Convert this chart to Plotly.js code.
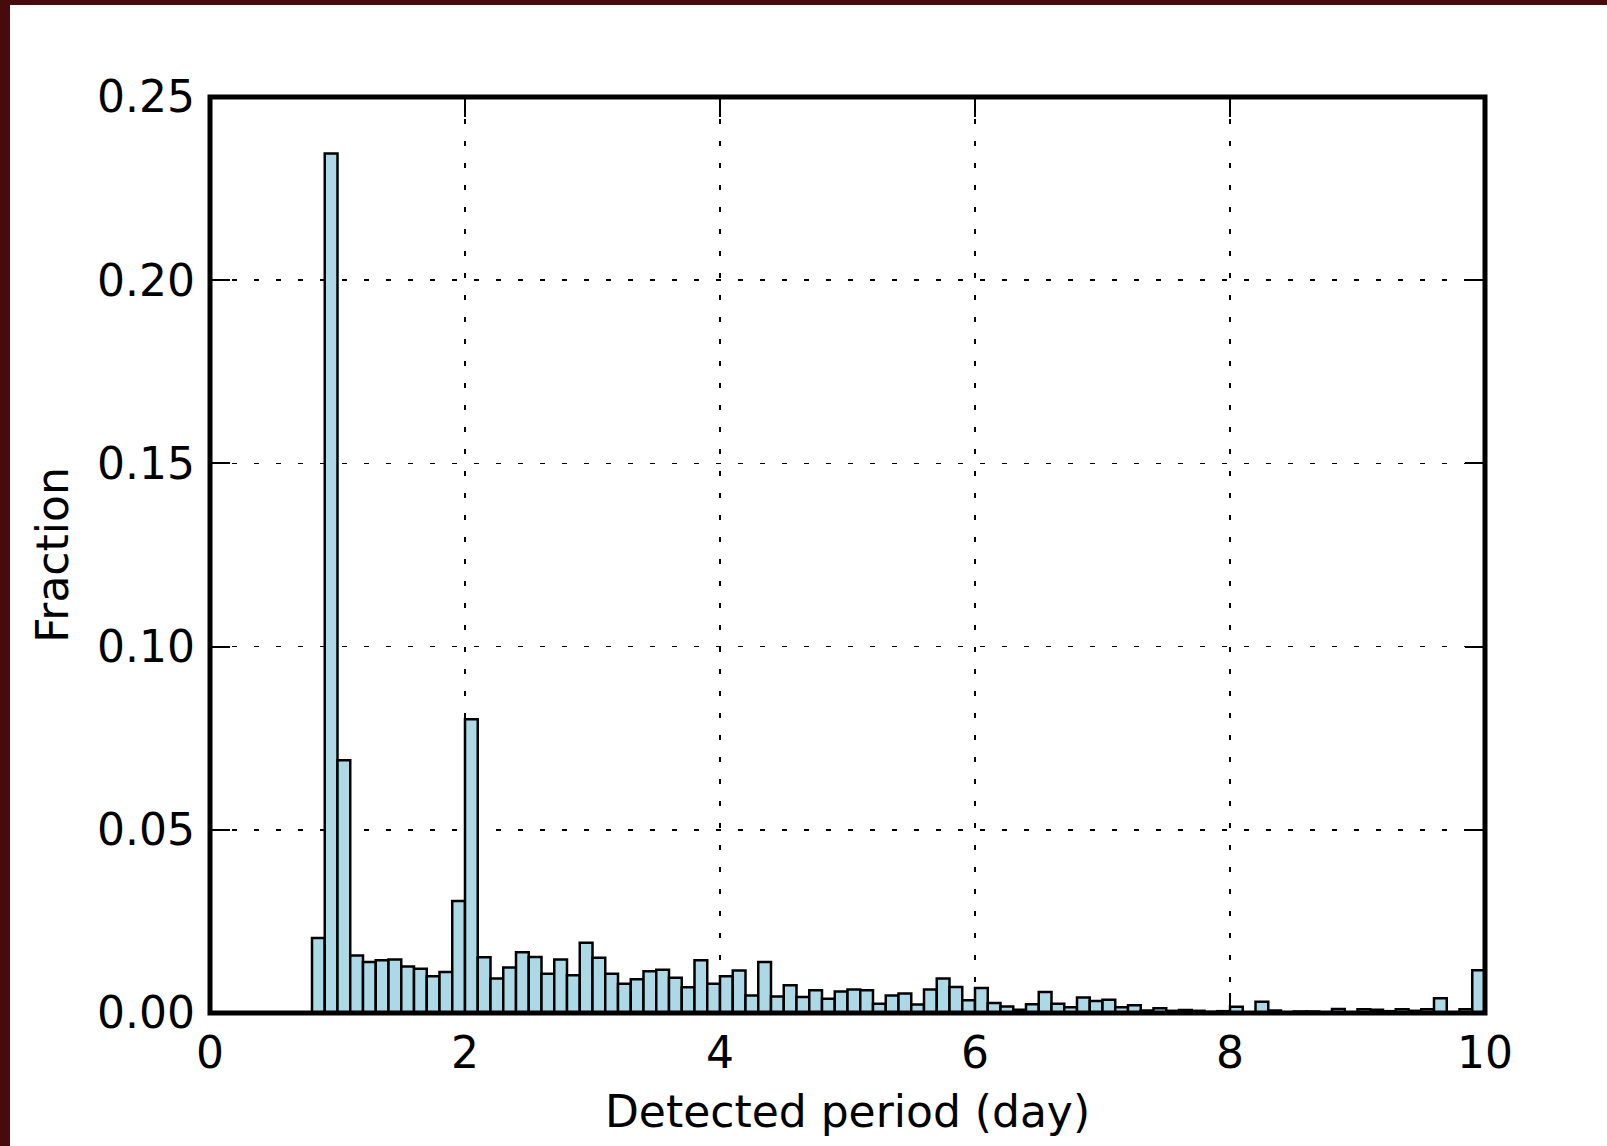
<!DOCTYPE html>
<html>
<head>
<meta charset="utf-8">
<script src="https://cdn.plot.ly/plotly-3.0.1.min.js"></script>
<style>
  html, body { margin: 0; padding: 0; background: #470b0e; }
  #chart { position: absolute; left: 10px; top: 5px; width: 1597px; height: 1141px; }
</style>
</head>
<body>
<div id="chart"></div>
<script>
// Histogram of detected periods: bin centres (day) and the fraction in each 0.1-day bin
const binCenters = [
  0.85, 0.95, 1.05, 1.15, 1.25, 1.35, 1.45, 1.55, 1.65, 1.75, 1.85, 1.95,
  2.05, 2.15, 2.25, 2.35, 2.45, 2.55, 2.65, 2.75, 2.85, 2.95,
  3.05, 3.15, 3.25, 3.35, 3.45, 3.55, 3.65, 3.75, 3.85, 3.95,
  4.05, 4.15, 4.25, 4.35, 4.45, 4.55, 4.65, 4.75, 4.85, 4.95,
  5.05, 5.15, 5.25, 5.35, 5.45, 5.55, 5.65, 5.75, 5.85, 5.95,
  6.05, 6.15, 6.25, 6.35, 6.45, 6.55, 6.65, 6.75, 6.85, 6.95,
  7.05, 7.15, 7.25, 7.35, 7.45, 7.55, 7.65, 7.75, 7.85, 7.95,
  8.05, 8.15, 8.25, 8.35, 8.45, 8.55, 8.65, 8.75, 8.85, 8.95,
  9.05, 9.15, 9.25, 9.35, 9.45, 9.55, 9.65, 9.75, 9.85, 9.95
];

const fraction = [
  0.0205, 0.2346, 0.0690, 0.0157, 0.0139, 0.0144, 0.0146, 0.0127, 0.0121, 0.0100, 0.0112, 0.0306,
  0.0802, 0.0152, 0.0094, 0.0124, 0.0166, 0.0153, 0.0107, 0.0146, 0.0103, 0.0192,
  0.0151, 0.0107, 0.0080, 0.0092, 0.0114, 0.0118, 0.0096, 0.0070, 0.0144, 0.0080,
  0.0100, 0.0116, 0.0048, 0.0139, 0.0045, 0.0076, 0.0044, 0.0062, 0.0039, 0.0059,
  0.0064, 0.0062, 0.0025, 0.0048, 0.0053, 0.0023, 0.0064, 0.0094, 0.0071, 0.0035,
  0.0068, 0.0027, 0.0018, 0.0009, 0.0024, 0.0057, 0.0025, 0.0016, 0.0042, 0.0033,
  0.0036, 0.0016, 0.0021, 0.0007, 0.0013, 0.0006, 0.0008, 0.0006, 0.0003, 0.0005,
  0.0017, 0.0002, 0.0031, 0.0007, 0.0002, 0.0004, 0.0004, 0.0000, 0.0011, 0.0000,
  0.0010, 0.0009, 0.0005, 0.0010, 0.0006, 0.0010, 0.0040, 0.0000, 0.0010, 0.0117
];

const xTicks = [0, 2, 4, 6, 8, 10];
const yTicks = [0.00, 0.05, 0.10, 0.15, 0.20, 0.25];

const FONT = 'DejaVu Sans, Verdana, sans-serif';

const trace = {
  type: 'bar',
  x: binCenters,
  y: fraction,
  marker: {
    color: '#add8e6',
    line: { color: '#000000', width: 2.5 }
  },
  hoverinfo: 'x+y'
};

const commonAxis = {
  showline: false,
  mirror: 'ticks',
  ticks: 'inside',
  ticklen: 20,
  tickwidth: 2,
  tickcolor: '#000000',
  showgrid: true,
  gridcolor: '#000000',
  gridwidth: 1.5,
  griddash: '5px,17px',
  zeroline: false,
  tickfont: { family: FONT, size: 44, color: '#000000' }
};

const layout = {
  width: 1597,
  height: 1141,
  margin: { l: 200, r: 122, t: 92, b: 133 },
  paper_bgcolor: '#ffffff',
  plot_bgcolor: '#ffffff',
  bargap: 0,
  showlegend: false,
  font: { family: FONT, color: '#000000' },
  xaxis: Object.assign({}, commonAxis, {
    range: [0, 10],
    tickmode: 'array',
    tickvals: xTicks,
    ticktext: xTicks.map(String),
    ticklabelstandoff: 10,
    title: { text: 'Detected period (day)', font: { family: FONT, size: 44 }, standoff: 19 }
  }),
  yaxis: Object.assign({}, commonAxis, {
    range: [0, 0.25],
    tickmode: 'array',
    tickvals: yTicks,
    ticktext: yTicks.map(v => v.toFixed(2)),
    ticklabelstandoff: 14,
    title: { text: 'Fraction', font: { family: FONT, size: 44 }, standoff: 14 }
  }),
  // axes frame, centred on the plot-area edges
  shapes: [{
    type: 'rect', xref: 'paper', yref: 'paper',
    x0: 0, x1: 1, y0: 0, y1: 1,
    line: { color: '#000000', width: 5 },
    fillcolor: 'rgba(0,0,0,0)',
    layer: 'above'
  }]
};

Plotly.newPlot('chart', [trace], layout, { displayModeBar: false, staticPlot: true });
</script>
</body>
</html>
